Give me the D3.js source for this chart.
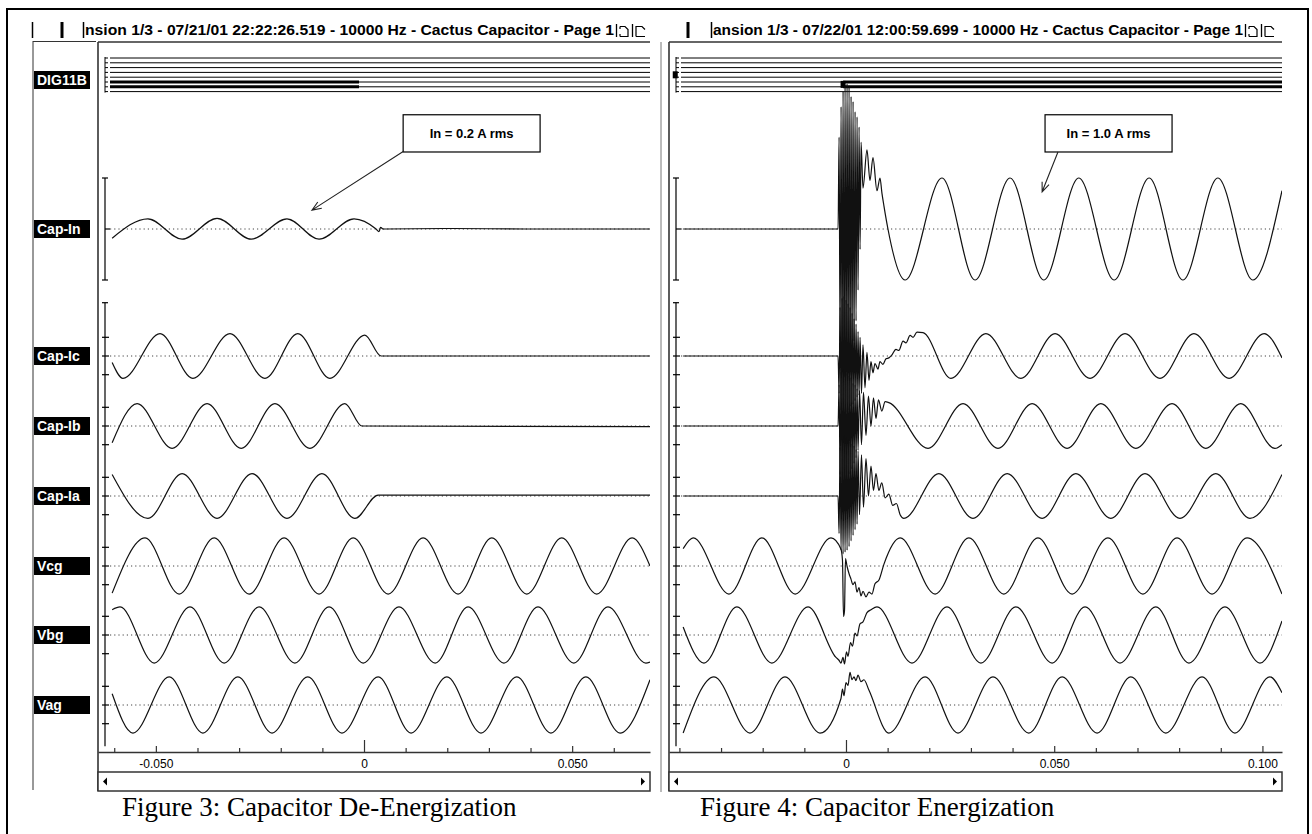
<!DOCTYPE html>
<html>
<head>
<meta charset="utf-8">
<script src="https://cdn.jsdelivr.net/npm/d3@7"></script>
<style>
  body { margin: 0; background: #fff; }
  svg { display: block; }
  .hdr { font-family: 'Liberation Sans', Arial, sans-serif; font-weight: bold; font-size: 14px; fill: #000; }
  .lbl { font-family: 'Liberation Sans', Arial, sans-serif; font-weight: bold; font-size: 14px; fill: #fff; }
  .note { font-family: 'Liberation Sans', Arial, sans-serif; font-weight: bold; font-size: 13px; fill: #000; }
  .cap { font-family: 'Liberation Serif', 'Times New Roman', serif; font-size: 27px; fill: #000; }
</style>
</head>
<body>
<svg id="canvas"></svg>
<script>
// ---- text ----
const channels = ['Cap-In', 'Cap-Ic', 'Cap-Ib', 'Cap-Ia', 'Vcg', 'Vbg', 'Vag'];
const digitalLabel = 'DIG11B';
const headerLeft = 'nsion 1/3 - 07/21/01 22:22:26.519 - 10000 Hz - Cactus Capacitor - Page 1';
const headerRight = 'ansion 1/3 - 07/22/01 12:00:59.699 - 10000 Hz - Cactus Capacitor - Page 1';
const captionLeft = 'Figure 3: Capacitor De-Energization';
const captionRight = 'Figure 4: Capacitor Energization';

// ---- time axes (seconds) ----
const domainLeft = [-0.0639, 0.0687];
const domainRight = [-0.0425, 0.1047];
const tickValuesLeft = [-0.06, -0.05, -0.04, -0.03, -0.02, -0.01, 0, 0.01, 0.02, 0.03, 0.04, 0.05, 0.06];
const tickValuesRight = [-0.04, -0.03, -0.02, -0.01, 0, 0.01, 0.02, 0.03, 0.04, 0.05, 0.06, 0.07, 0.08, 0.09, 0.1];
const tickLabelsLeft = [-0.05, 0, 0.05];
const tickLabelsRight = [0, 0.05, 0.1];

// ---- waveforms, [time ms, value]; Cap-In in A (bar = 1), others in scale divisions ----
const capInL = [[-60.5,-0.18],[-51.9,0.2],[-43.7,-0.2],[-35.3,0.21],[-27.1,-0.2],[-18.5,0.2],[-10.8,-0.2],[-2.4,0.2],
  [2.9,0],[3.6,-0.05],[4.0,0.03],[4.6,0],[20,0.01],[40,0],[68.7,0]];
const capIcL = [[-60.5,-0.35],[-57.9,-1.2],[-49.0,1.2],[-41.1,-1.2],[-32.2,1.2],[-23.8,-1.2],[-15.9,1.2],[-8.2,-1.2],
  [0.2,1.12],[4.1,0],[68.7,0]];
const capIbL = [[-60.5,-0.9],[-54.5,1.2],[-46.1,-1.2],[-37.7,1.2],[-29.5,-1.2],[-21.4,1.2],[-13.0,-1.2],[-4.6,1.2],
  [-0.5,0],[68.7,-0.03]];
const capIaL = [[-60.5,1.15],[-51.9,-1.2],[-43.7,1.2],[-35.3,-1.2],[-26.9,1.2],[-18.5,-1.2],[-10.1,1.2],[-2.2,-1.2],
  [3.4,0.05],[68.7,0.05]];
const vcgL = [[-60.5,-1.45],[-52.6,1.5],[-44.4,-1.5],[-36.0,1.5],[-27.6,-1.5],[-19.2,1.5],[-10.8,-1.5],[-2.6,1.5],
  [5.8,-1.5],[14.2,1.5],[22.6,-1.5],[30.7,1.5],[39.1,-1.5],[47.5,1.5],[55.9,-1.5],[64.4,1.5],[68.7,0]];
const vbgL = [[-60.5,1.35],[-58.6,1.5],[-50.4,-1.5],[-41.8,1.5],[-33.6,-1.5],[-25.2,1.5],[-16.6,-1.5],[-8.4,1.5],
  [-0.2,-1.5],[8.4,1.5],[17.1,-1.5],[25.0,1.5],[33.6,-1.5],[41.8,1.5],[50.4,-1.5],[58.6,1.5],[67.7,-1.5],[68.7,-1.45]];
const vagL = [[-60.5,0.6],[-55.5,-1.5],[-46.8,1.5],[-38.7,-1.5],[-30.3,1.5],[-22.1,-1.5],[-13.5,1.5],[-5.3,-1.5],
  [3.4,1.5],[11.3,-1.5],[19.9,1.5],[28.1,-1.5],[36.7,1.5],[44.9,-1.5],[53.3,1.5],[61.5,-1.5],[68.7,1.35]];

const capInR = [[-39.1,0],[-1.9,0],[-1.66,1.8],[-1.42,-2.2],[-1.18,2.4],[-0.94,-2.6],[-0.7,2.7],[-0.46,-2.9],
  [-0.22,2.8],[0.02,-2.8],[0.26,2.85],[0.5,-2.7],[0.74,2.8],[0.98,-2.6],[1.22,2.6],[1.46,-2.4],[1.7,2.5],[1.94,-2.2],
  [2.18,2.3],[2.42,-1.8],[2.66,2.2],[2.9,-1.2],[3.14,2.0],[3.38,-0.4],[3.62,1.7],[4.08,0.8],[5.04,1.55],
  [5.76,0.95],[6.48,1.4],[7.44,0.75],[8.16,1.0],[8.64,0.7],[9.12,0.45],[10.08,0],[14.2,-1.0],[23.05,1.0],[31.0,-1.0],
  [39.4,1.0],[47.5,-1.0],[55.9,1.0],[64.4,-1.0],[72.8,1.0],[80.9,-1.0],[89.3,1.0],[97.7,-1.0],[104.7,0.75]];
const capIcR = [[-39.1,0],[-1.9,0],[-1.66,-2.0],[-1.42,2.6],[-1.18,-2.9],[-0.94,3.1],[-0.7,-3.2],[-0.46,3.2],
  [-0.22,-3.1],[0.02,3.0],[0.26,-3.0],[0.5,2.8],[0.74,-2.9],[0.98,2.6],[1.22,-2.7],[1.46,2.3],[1.7,-2.6],[1.94,2.0],
  [2.18,-2.4],[2.42,1.7],[2.66,-2.2],[2.9,1.3],[3.14,-2.1],[3.38,1.0],[3.72,-2.0],[4.08,0.6],[4.56,-1.7],[5.04,0.2],
  [5.52,-1.3],[6.0,-0.3],[6.48,-0.9],[6.96,-0.4],[7.68,-0.7],[8.16,-0.3],[8.88,-0.45],[9.6,-0.15],[10.3,-0.1],
  [11.0,0.05],[12.0,0.35],[12.7,0.3],[13.7,0.8],[14.4,0.7],[15.4,1.1],[16.1,1.0],[17.05,1.28],[18.5,1.25],
  [25.2,-1.2],[33.6,1.2],[42.0,-1.2],[50.2,1.2],[58.6,-1.2],[67.0,1.2],[75.4,-1.2],[83.55,1.2],[92.0,-1.2],
  [100.4,1.2],[104.7,-0.1]];
const capIbR = [[-39.1,0],[-1.9,0],[-1.66,2.2],[-1.42,-2.6],[-1.18,2.9],[-0.94,-3.0],[-0.7,3.0],[-0.46,-3.1],
  [-0.22,2.9],[0.02,-3.2],[0.26,2.8],[0.5,-2.9],[0.74,2.7],[0.98,-2.6],[1.22,2.6],[1.46,-2.3],[1.7,2.3],[1.94,-2.0],
  [2.18,2.2],[2.42,-1.7],[2.66,2.0],[2.9,-1.3],[3.24,1.9],[3.72,-1.0],[4.2,1.8],[4.8,-0.5],[5.4,1.6],[6.0,0.0],
  [6.6,1.5],[7.2,0.4],[7.8,1.4],[8.6,0.8],[9.4,1.3],[10.3,1.25],[19.7,-1.2],[28.1,1.2],[36.5,-1.2],[44.7,1.2],
  [53.1,-1.2],[61.2,1.2],[69.6,-1.2],[78.3,1.2],[86.4,-1.2],[94.8,1.2],[103.0,-1.2],[104.7,-1.0]];
const capIaR = [[-39.1,0],[-1.9,0],[-1.66,-2.0],[-1.42,2.6],[-1.18,-2.9],[-0.94,3.0],[-0.7,-3.1],[-0.46,3.2],
  [-0.22,-3.0],[0.02,3.1],[0.26,-2.9],[0.5,3.0],[0.74,-2.7],[0.98,2.9],[1.22,-2.4],[1.46,2.8],[1.7,-2.1],[1.94,2.7],
  [2.18,-1.8],[2.42,2.5],[2.66,-1.5],[2.9,2.4],[3.24,-1.0],[3.72,2.2],[4.2,-0.6],[4.8,2.0],[5.4,0.0],[6.0,1.6],
  [6.6,0.3],[7.2,1.2],[7.9,0.3],[8.6,0.7],[9.4,-0.1],[10.3,0.1],[11.2,-0.5],[12.1,-0.4],[13.0,-1.0],[13.9,-1.2],
  [22.3,1.2],[30.5,-1.2],[38.7,1.2],[47.1,-1.2],[55.2,1.2],[63.6,-1.2],[71.8,1.2],[80.2,-1.2],[88.8,1.2],[97.0,-1.2],
  [104.7,1.15]];
const vcgR = [[-39.1,0.93],[-36.7,1.5],[-28.1,-1.5],[-20.2,1.5],[-12.2,-1.5],[-3.6,1.5],[-1.2,0.9],[-0.84,0.3],
  [-0.6,-2.7],[-0.36,-2.4],[-0.12,0.4],[0.24,0],[0.72,-0.4],[1.2,-0.7],[1.68,-1.0],[2.16,-0.85],[2.64,-1.4],
  [3.12,-1.15],[3.6,-1.6],[4.08,-1.35],[4.8,-1.65],[5.52,-1.4],[6.24,-1.5],[6.96,-0.95],[7.92,-0.75],[9.12,0.1],
  [13.0,1.5],[21.4,-1.5],[29.5,1.5],[37.9,-1.5],[46.1,1.5],[54.3,-1.5],[62.9,1.5],[71.3,-1.5],[79.5,1.5],
  [87.9,-1.5],[96.3,1.5],[104.7,-1.5]];
const vbgR = [[-39.1,0.43],[-34.1,-1.5],[-26.2,1.5],[-17.8,-1.5],[-9.1,1.5],[-2.4,-1.2],[-1.68,-1.35],[-1.2,-1.5],
  [-0.72,-1.2],[-0.36,-1.55],[0.12,-0.9],[0.48,-1.15],[1.08,-0.4],[1.56,-0.6],[2.16,0.1],[2.64,-0.05],[3.36,0.6],
  [4.08,0.7],[5.04,1.2],[6.0,1.35],[7.44,1.5],[15.85,-1.5],[24.25,1.5],[32.4,-1.5],[40.8,1.5],[49.5,-1.5],[57.4,1.5],
  [65.8,-1.5],[74.4,1.5],[82.35,-1.5],[91.0,1.5],[99.4,-1.5],[104.7,0.75]];
const vagR = [[-39.1,-1.5],[-31.7,1.5],[-23.05,-1.5],[-14.65,1.5],[-6.24,-1.5],[-1.2,0.35],[-0.84,0.85],[-0.48,0.5],
  [0.0,1.2],[0.48,1.05],[0.96,1.75],[1.44,1.35],[1.92,1.5],[2.4,1.3],[2.88,1.6],[3.6,1.25],[4.32,1.35],[5.5,0.8],
  [10.3,-1.5],[19.0,1.5],[26.9,-1.5],[35.3,1.5],[43.9,-1.5],[51.9,1.5],[60.3,-1.5],[68.4,1.5],[76.8,-1.5],[85.5,1.5],
  [93.4,-1.5],[101.8,1.5],[104.7,0.65]];

// ---- digital channel (8 traces), on-intervals in ms ----
const digitalCount = 8;
const digitalOnL = [{ ch: 5, from: -63, to: -1.2 }, { ch: 6, from: -63, to: -1.2 }];
const digitalOnR = [{ ch: 5, from: -0.7, to: 104.7 }, { ch: 6, from: -0.7, to: 104.7 }];
const digitalMarksR = [{ ch: 3.5, t: -41.0 }, { ch: 5.5, t: -0.7 }];

// ---- notes on Cap-In ----
const noteL = { text: 'In = 0.2 A rms', t0: 9.4, t1: 42.3, v0: 2.24, v1: 1.51, tailT: 9.6, tailV: 1.53, tipT: -12.5, tipV: 0.37 };
const noteR = { text: 'In = 1.0 A rms', t0: 47.8, t1: 78.3, v0: 2.24, v1: 1.51, tailT: 50.9, tailV: 1.51, tipT: 47.1, tipV: 0.73 };

// ---- layout ----
const width = 1312;
const height = 834;
const baseY = [229, 356, 426, 496, 566, 635, 705];
const spanY = [51, 18.7, 18.7, 18.7, 18.7, 18.7, 18.7];
const digTop = 58, digStep = 4.8;
const plotTop = 42, axisY = 752, scrollTop = 772, scrollH = 19;

const panels = [
  { x0: 98, x1: 650, scaleX: 105, waveX: 110, domain: domainLeft, header: headerLeft, headerX: 85, headerEnd: 614,
    bars: [[32.5, 1.5], [62, 3], [83.5, 1.5]], caption: captionLeft, captionX: 122, ticks: tickValuesLeft, labels: tickLabelsLeft,
    series: [capInL, capIcL, capIbL, capIaL, vcgL, vbgL, vagL], digitalOn: digitalOnL, marks: [], note: noteL },
  { x0: 669, x1: 1282, scaleX: 676, waveX: 681, domain: domainRight, header: headerRight, headerX: 713, headerEnd: 1243,
    bars: [[688, 3], [711.5, 1.5]], caption: captionRight, captionX: 700, ticks: tickValuesRight, labels: tickLabelsRight,
    series: [capInR, capIcR, capIbR, capIaR, vcgR, vbgR, vagR], digitalOn: digitalOnR, marks: digitalMarksR, note: noteR }
];

const svg = d3.select('#canvas').attr('width', width).attr('height', height);

const drawFrame = () => {
  svg.append('rect').attr('width', width).attr('height', height).attr('fill', '#fff');
  svg.append('rect')
    .attr('x', 7).attr('y', 9).attr('width', 1301).attr('height', 840)
    .attr('fill', 'none').attr('stroke', '#000').attr('stroke-width', 2);

  // label column of the left recorder window
  svg.append('line').attr('x1', 33).attr('x2', 33).attr('y1', 41).attr('y2', 790).attr('stroke', '#333');
  svg.append('line').attr('x1', 33).attr('x2', 96).attr('y1', 41.5).attr('y2', 41.5).attr('stroke', '#333');
  // separator between the two screenshots
  svg.append('line').attr('x1', 661).attr('x2', 661).attr('y1', 42).attr('y2', 792).attr('stroke', '#777');

  const labels = [{ name: digitalLabel, y: 80 }].concat(channels.map((c, i) => ({ name: c, y: baseY[i] })));
  const lg = svg.append('g');
  lg.selectAll('rect').data(labels).enter().append('rect')
    .attr('x', 34).attr('width', 56).attr('y', d => d.y - 9).attr('height', 18).attr('fill', '#000');
  lg.selectAll('text').data(labels).enter().append('text')
    .attr('class', 'lbl').attr('x', 37).attr('y', d => d.y + 5).text(d => d.name);
};

const drawPanel = (p, idx) => {
  const xScale = d3.scaleLinear().domain(p.domain).range([p.x0, p.x1]);
  const yScales = channels.map((c, i) => d3.scaleLinear().domain([-1, 1]).range([baseY[i] + spanY[i], baseY[i] - spanY[i]]));
  const xt = t => xScale(t / 1000);
  const g = svg.append('g');

  // header strip
  p.bars.forEach(b => {
    g.append('line').attr('x1', b[0]).attr('x2', b[0]).attr('y1', 22).attr('y2', 38)
      .attr('stroke', '#000').attr('stroke-width', b[1]);
  });
  g.append('text').attr('class', 'hdr').attr('x', p.headerX).attr('y', 35)
    .attr('textLength', p.headerEnd - p.headerX).attr('lengthAdjust', 'spacingAndGlyphs').text(p.header);
  const e = p.headerEnd;
  [e + 2.5, e + 18.5].forEach(sx => {
    g.append('line').attr('x1', sx).attr('x2', sx).attr('y1', 24).attr('y2', 37).attr('stroke', '#000').attr('stroke-width', 1.3);
  });
  g.append('path').attr('d', `M${e + 6},26.5 H${e + 11} L${e + 14},29.5 V36.5 H${e + 6} M${e + 6},26.5 V29 M${e + 6},34 V36.5`)
    .attr('fill', 'none').attr('stroke', '#000').attr('stroke-width', 1.2);
  g.append('path').attr('d', `M${e + 22},36.5 V26.5 H${e + 28} L${e + 31},29.5 M${e + 22},36.5 H${e + 31}`)
    .attr('fill', 'none').attr('stroke', '#000').attr('stroke-width', 1.2);

  // plot box
  g.append('line').attr('x1', p.x0).attr('x2', p.x1).attr('y1', plotTop).attr('y2', plotTop).attr('stroke', '#333').attr('stroke-width', 1.3);
  g.append('line').attr('x1', p.x0).attr('x2', p.x0).attr('y1', plotTop).attr('y2', scrollTop + scrollH).attr('stroke', '#333').attr('stroke-width', 1.6);

  const clipId = 'clip' + idx;
  svg.append('clipPath').attr('id', clipId).append('rect')
    .attr('x', p.x0 + 1).attr('y', plotTop + 1).attr('width', p.x1 - p.x0 - 1).attr('height', axisY - plotTop - 3);

  // digital traces
  const digY = i => digTop + i * digStep;
  const dg = g.append('g');
  dg.append('line').attr('x1', p.scaleX).attr('x2', p.scaleX).attr('y1', digY(0) - 1).attr('y2', digY(digitalCount - 1) + 1).attr('stroke', '#000');
  d3.range(digitalCount).forEach(i => {
    dg.append('line').attr('x1', p.scaleX).attr('x2', p.scaleX + 3).attr('y1', digY(i)).attr('y2', digY(i)).attr('stroke', '#000');
    dg.append('line').attr('x1', p.waveX).attr('x2', p.x1).attr('y1', digY(i)).attr('y2', digY(i)).attr('stroke', '#000').attr('stroke-width', 1);
  });
  dg.selectAll('.on').data(p.digitalOn).enter().append('line')
    .attr('x1', d => Math.max(p.waveX, xt(d.from))).attr('x2', d => Math.min(p.x1, xt(d.to)))
    .attr('y1', d => digY(d.ch)).attr('y2', d => digY(d.ch)).attr('stroke', '#000').attr('stroke-width', 3);
  dg.selectAll('.mk').data(p.marks).enter().append('rect')
    .attr('x', d => xt(d.t) - 2.5).attr('y', d => digY(d.ch) - 3.5).attr('width', 5).attr('height', 7).attr('fill', '#000');

  // zero lines
  g.selectAll('.zero').data(baseY).enter().append('line')
    .attr('x1', p.waveX).attr('x2', p.x1).attr('y1', d => d).attr('y2', d => d)
    .attr('stroke', '#444').attr('stroke-width', 1).attr('stroke-dasharray', '1.2,3');

  // vertical scales
  const sx = p.scaleX;
  const vs = g.append('g').attr('stroke', '#000').attr('stroke-width', 1.2);
  vs.append('line').attr('x1', sx).attr('x2', sx).attr('y1', yScales[0](1)).attr('y2', yScales[0](-1));
  [1, -1].forEach(v => vs.append('line').attr('x1', sx - 3).attr('x2', sx + 3).attr('y1', yScales[0](v)).attr('y2', yScales[0](v)));
  vs.append('line').attr('x1', sx).attr('x2', sx + 5).attr('y1', yScales[0](0)).attr('y2', yScales[0](0));
  const topV = yScales[1](2.85), botV = yScales[6](-2.2);
  vs.append('line').attr('x1', sx).attr('x2', sx).attr('y1', topV).attr('y2', botV);
  vs.append('line').attr('x1', sx - 3).attr('x2', sx + 3).attr('y1', topV).attr('y2', topV);
  yScales.slice(1).forEach(ys => {
    [-1, 0, 1].forEach(v => vs.append('line').attr('x1', sx - 3).attr('x2', sx + 4).attr('y1', ys(v)).attr('y2', ys(v)));
  });

  // waveforms
  const wg = g.append('g').attr('clip-path', `url(#${clipId})`);
  p.series.forEach((s, i) => {
    const line = d3.line().x(d => xt(d[0])).y(d => yScales[i](d[1])).curve(d3.curveMonotoneX);
    wg.append('path').datum(s).attr('d', line)
      .attr('fill', 'none').attr('stroke', '#111').attr('stroke-width', 1.2).attr('stroke-linejoin', 'round');
  });

  // note box + arrow on Cap-In
  const n = p.note, ys0 = yScales[0];
  const bx = xt(n.t0), bw = xt(n.t1) - xt(n.t0), by = ys0(n.v0), bh = ys0(n.v1) - ys0(n.v0);
  g.append('rect').attr('x', bx).attr('y', by).attr('width', bw).attr('height', bh)
    .attr('fill', '#fff').attr('stroke', '#000').attr('stroke-width', 1.2);
  g.append('text').attr('class', 'note').attr('x', bx + bw / 2).attr('y', by + bh / 2 + 4.5)
    .attr('text-anchor', 'middle').text(n.text);
  const tip = [xt(n.tipT), ys0(n.tipV)], tail = [xt(n.tailT), ys0(n.tailV)];
  const ang = Math.atan2(tail[1] - tip[1], tail[0] - tip[0]);
  const barb = a => [tip[0] + 10 * Math.cos(ang + a), tip[1] + 10 * Math.sin(ang + a)];
  const b1 = barb(0.38), b2 = barb(-0.38);
  g.append('path').attr('d', `M${tail[0]},${tail[1]} L${tip[0]},${tip[1]} M${b1[0]},${b1[1]} L${tip[0]},${tip[1]} L${b2[0]},${b2[1]}`)
    .attr('fill', 'none').attr('stroke', '#222').attr('stroke-width', 1.1);

  // time axis
  const isLabel = v => p.labels.some(l => Math.abs(l - v) < 1e-9);
  const xAxis = d3.axisBottom(xScale)
    .tickValues(p.ticks)
    .tickSize(-4)
    .tickSizeOuter(0)
    .tickPadding(7.5)
    .tickFormat(v => isLabel(v) ? (Math.abs(v) < 1e-9 ? '0' : v.toFixed(3)) : '');
  const ax = g.append('g').attr('transform', `translate(0,${axisY})`).call(xAxis);
  ax.select('.domain').attr('stroke', '#333').attr('stroke-width', 1.5);
  ax.selectAll('.tick line').attr('stroke', '#333').attr('stroke-width', 1.2)
    .attr('y2', v => Math.abs(v) < 1e-9 ? -12 : (isLabel(v) ? -6 : -4));
  ax.selectAll('.tick text').attr('fill', '#000')
    .style('font-family', "'Liberation Sans', Arial, sans-serif").style('font-size', '12px');

  // scroll bar
  g.append('rect').attr('x', p.x0).attr('y', scrollTop).attr('width', p.x1 - p.x0).attr('height', scrollH)
    .attr('fill', '#fff').attr('stroke', '#333').attr('stroke-width', 1.5);
  const my = scrollTop + scrollH / 2;
  g.append('path').attr('d', `M${p.x0 + 5},${my} L${p.x0 + 9},${my - 4} L${p.x0 + 9},${my + 4} Z`).attr('fill', '#000');
  g.append('path').attr('d', `M${p.x1 - 5},${my} L${p.x1 - 9},${my - 4} L${p.x1 - 9},${my + 4} Z`).attr('fill', '#000');

  // caption
  svg.append('text').attr('class', 'cap').attr('x', p.captionX).attr('y', 816).text(p.caption);
};

drawFrame();
panels.forEach((p, i) => drawPanel(p, i));
</script>
</body>
</html>
